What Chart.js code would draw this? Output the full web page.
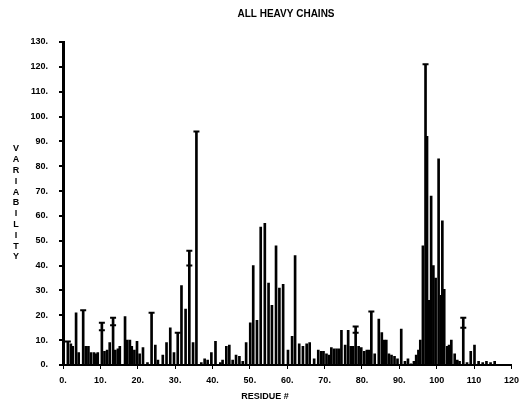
<!DOCTYPE html>
<html>
<head>
<meta charset="utf-8">
<script src="https://cdn.jsdelivr.net/npm/chart.js@4.4.1/dist/chart.umd.min.js"></script>
<style>
  html, body { margin: 0; padding: 0; background: #fff; }
  #wrap { width: 525px; height: 412px; }
</style>
</head>
<body>
<div id="wrap"><canvas id="c" width="525" height="412"></canvas></div>
<script>
// ---- data ----
const chartTitle = "ALL HEAVY CHAINS";
const xTitle = "RESIDUE #";
const yTitle = "VARIABILITY";

// residue position (axis units) of each bar
const residuePos = [
  1.3, 2.1, 2.6, 3.5, 4.2, 5.4, 6.1, 6.8, 7.5, 8.3, 8.8, 9.3, 10.4, 11.1, 11.8, 12.5,
  13.4, 14.0, 14.7, 15.2, 16.6, 17.2, 17.9, 18.4, 19.1, 19.8,
  20.5, 21.4, 22.6, 23.7, 24.7, 25.4, 26.7, 27.7, 28.7, 29.7, 30.7, 31.7, 32.8, 33.8, 34.8, 35.7,
  37.0, 37.9, 38.7, 39.7, 40.8, 42.1, 42.7, 43.7, 44.5, 45.4, 46.3, 47.2, 48.1, 49.0,
  50.1, 50.9, 51.9, 52.9, 54.0, 55.0, 55.9, 57.0, 57.9, 58.9, 60.2, 61.3, 62.1, 63.2, 64.2,
  65.2, 66.0, 67.2, 68.3, 69.1, 69.7, 70.5, 71.2, 71.8, 72.5, 73.2, 73.9, 74.5, 75.5, 76.3,
  77.0, 77.6, 78.3, 79.1, 79.8, 80.6, 81.3, 81.9, 82.5, 83.4, 84.5, 85.3, 85.9, 86.5, 87.2,
  87.9, 88.7, 89.5, 90.5, 91.5, 92.3, 93.1, 93.9, 94.5, 95.1, 95.6, 96.3, 97.0, 97.4, 98.0,
  98.5, 99.1, 99.7, 100.5, 101.1, 101.5, 102.0, 102.8, 103.3, 103.9, 104.8, 105.5, 106.1,
  107.1, 108.1, 109.1, 110.1, 111.2, 112.3, 113.3, 114.4, 115.5
];
// variability value of each bar
const variability = [
  9.5, 8.5, 7.5, 21, 5, 22, 7.5, 7.5, 5, 5, 4.5, 5, 17, 5.5, 6, 9,
  19, 6, 6.5, 7.5, 19.5, 10, 10, 7.5, 6, 9.5,
  4.5, 7, 1, 21, 8, 2, 4, 9, 15, 5, 13, 32, 22.5, 46, 9, 94,
  1, 2.5, 2, 5, 9.5, 1, 2, 7.5, 8, 2, 4, 3.5, 1.5, 9,
  17, 40, 18, 55.5, 57, 33, 24, 48, 31, 32.5, 6, 11.5, 44, 8.5, 7.5,
  8.5, 9, 2.5, 6, 5.5, 5.5, 4.5, 4, 7, 6.5, 6.5, 6.5, 14, 8, 14,
  7.5, 7.5, 15.5, 7.5, 7, 5.5, 6, 6, 21.5, 4.5, 18.5, 13, 10, 10, 4.5,
  4, 3.5, 2.5, 14.5, 1.5, 2.5, 0.5, 1.5, 4, 6, 10, 48, 121, 92, 26,
  68, 40, 35, 83, 28, 58, 30.5, 7.5, 8, 10, 4.5, 2, 1.5,
  19, 1, 5.5, 8, 1.5, 1, 1.5, 1, 1.5
];

// small horizontal cap marks seen on some bars
const capPos = [1.3, 5.4, 10.4, 10.4, 13.4, 13.4, 23.7, 30.7, 33.8, 33.8, 35.7, 78.3, 78.3, 82.5, 97.0, 107.1, 107.1];
const capVal = [9.5, 22, 17, 14, 19, 16, 21, 13, 46, 40, 94, 15.5, 13, 21.5, 121, 19, 15];

const xTicks = [0, 10, 20, 30, 40, 50, 60, 70, 80, 90, 100, 110, 120];
const yTicks = [0, 10, 20, 30, 40, 50, 60, 70, 80, 90, 100, 110, 120, 130];

// ---- chart ----
const FONT = "'Liberation Sans', Arial, sans-serif";

const textPlugin = {
  id: 'texts',
  afterDraw(chart) {
    const ctx = chart.ctx;
    ctx.save();
    ctx.fillStyle = '#000';
    ctx.textAlign = 'center';
    ctx.textBaseline = 'middle';
    ctx.font = "bold 10px " + FONT;
    ctx.fillText(chartTitle, 286, 14);
    ctx.font = "bold 9px " + FONT;
    ctx.fillText(xTitle, 265, 397);
    yTitle.split('').forEach((ch, i) => {
      ctx.fillText(ch, 16, 149 + i * 10.8);
    });
    ctx.restore();
  }
};

new Chart(document.getElementById('c'), {
  type: 'bar',
  data: {
    datasets: [{
      type: 'bar',
      data: residuePos.map((x, i) => ({ x: x, y: variability[i] })),
      backgroundColor: '#000',
      borderWidth: 0,
      barThickness: 2
    }, {
      type: 'scatter',
      data: capPos.map((x, i) => ({ x: x, y: capVal[i] })),
      pointStyle: 'line',
      radius: 3,
      borderColor: '#000',
      borderWidth: 2,
      backgroundColor: '#000'
    }]
  },
  options: {
    responsive: false,
    animation: false,
    devicePixelRatio: 1,
    layout: { padding: { top: 42, right: 12, bottom: 0, left: 0 } },
    plugins: {
      legend: { display: false },
      tooltip: { enabled: false },
      title: { display: false }
    },
    scales: {
      x: {
        type: 'linear',
        offset: false,
        min: 0,
        max: 120,
        afterBuildTicks(scale) { scale.ticks = xTicks.map(v => ({ value: v })); },
        afterFit(scale) { scale.height = 47; },
        ticks: {
          color: '#000',
          font: { family: FONT, size: 9, weight: 'bold' },
          padding: 6,
          maxRotation: 0,
          autoSkip: false,
          callback: v => (v < 100 ? v + '.' : String(v))
        },
        grid: { display: true, offset: false, drawOnChartArea: false, drawTicks: true, tickLength: 4, color: '#000', lineWidth: 1 },
        border: { display: true, color: '#000', width: 2 }
      },
      y: {
        type: 'linear',
        min: 0,
        max: 130,
        afterBuildTicks(scale) { scale.ticks = yTicks.map(v => ({ value: v })); },
        afterFit(scale) { scale.width = 63; },
        ticks: {
          color: '#000',
          font: { family: FONT, size: 9, weight: 'bold' },
          padding: 11,
          autoSkip: false,
          callback: v => v + '.'
        },
        grid: { display: true, drawOnChartArea: false, drawTicks: true, tickLength: 4, color: '#000', lineWidth: 2 },
        border: { display: true, color: '#000', width: 3 }
      }
    }
  },
  plugins: [textPlugin]
});
</script>
</body>
</html>
